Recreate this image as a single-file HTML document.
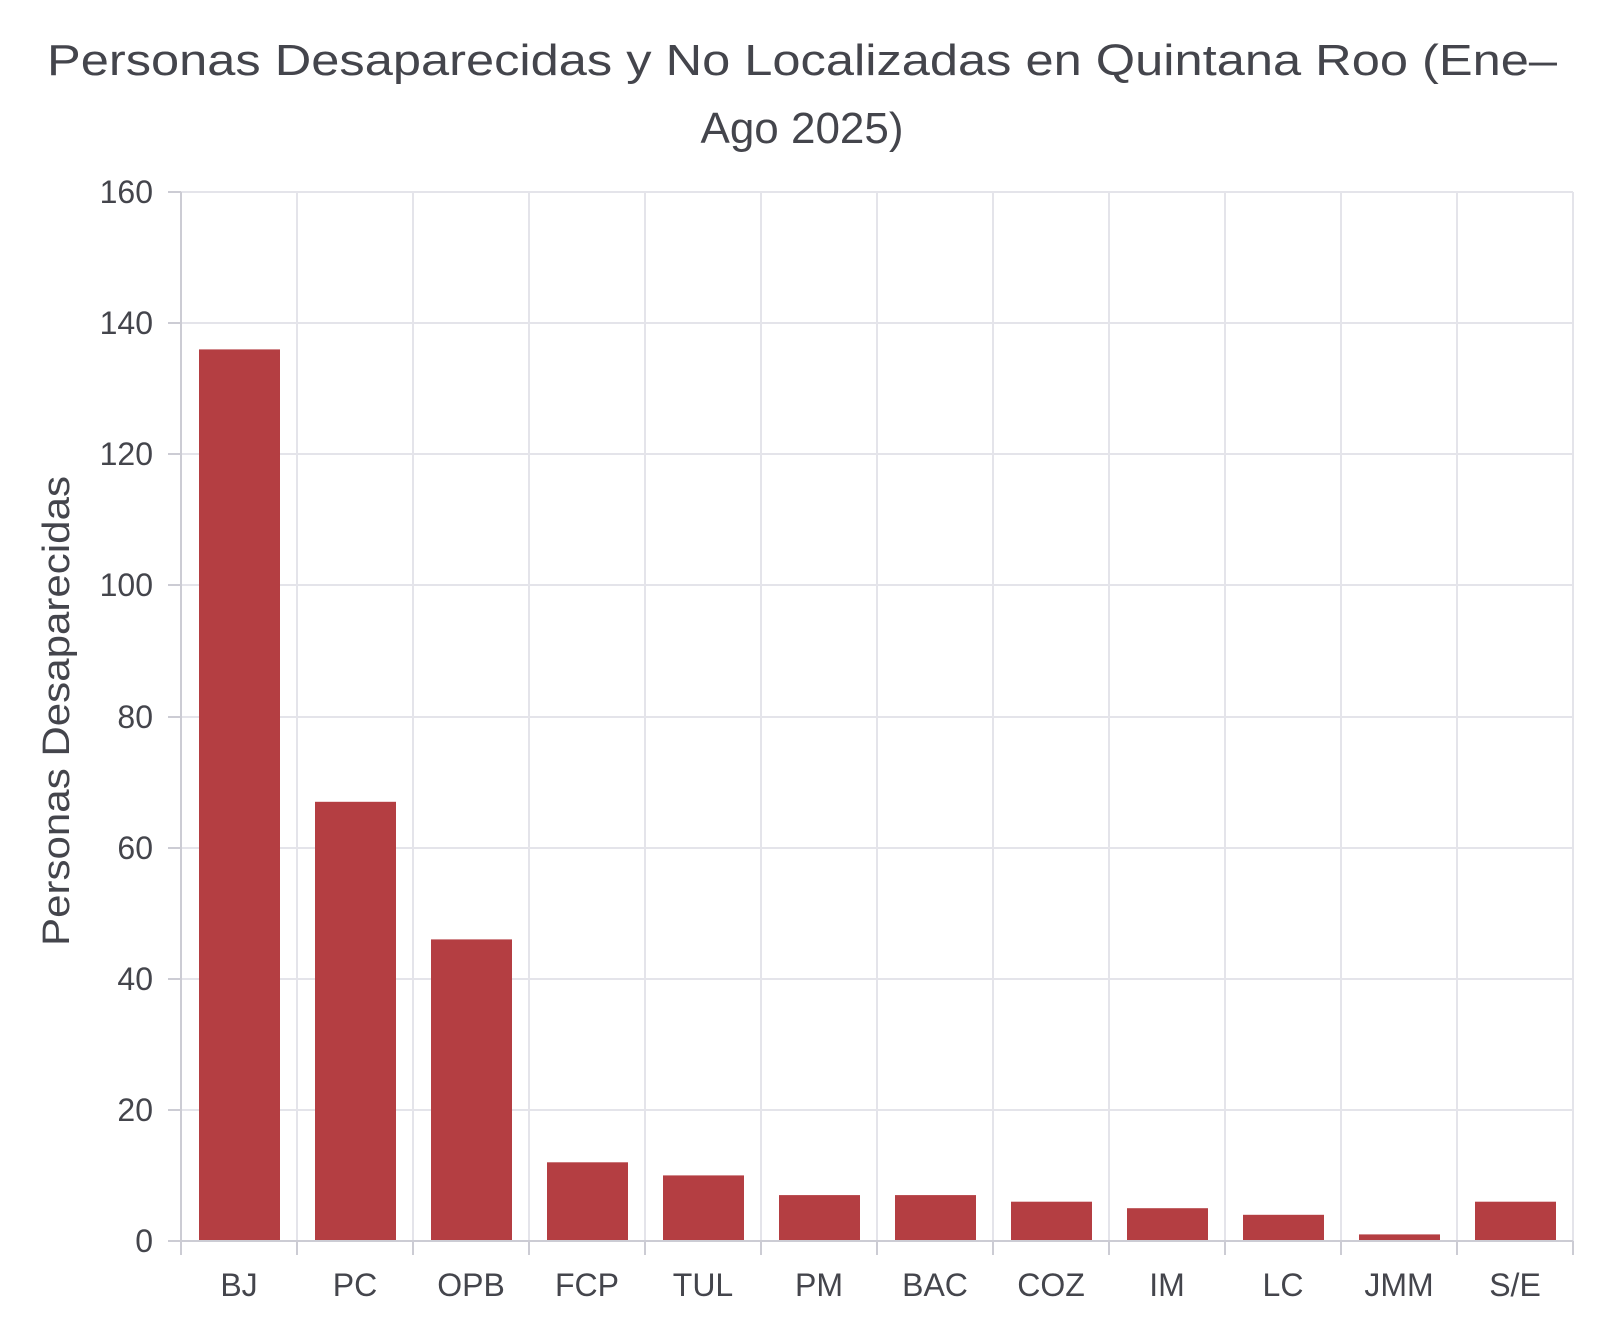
<!DOCTYPE html>
<html><head><meta charset="utf-8"><style>html,body{margin:0;padding:0;background:#fff}svg{display:block}</style></head>
<body>
<svg width="1600" height="1333" viewBox="0 0 1600 1333" xmlns="http://www.w3.org/2000/svg" font-family="Liberation Sans, sans-serif">
<rect width="1600" height="1333" fill="#fff"/>
<g fill="#44454c" font-size="44" text-anchor="middle">
<text x="802" y="75" textLength="1510" lengthAdjust="spacingAndGlyphs">Personas Desaparecidas y No Localizadas en Quintana Roo (Ene–</text>
<text x="802" y="143">Ago 2025)</text>
</g>
<g stroke="#e4e4ea" stroke-width="2">
<line x1="181" y1="192" x2="1573" y2="192"/><line x1="181" y1="323" x2="1573" y2="323"/><line x1="181" y1="454" x2="1573" y2="454"/><line x1="181" y1="585" x2="1573" y2="585"/><line x1="181" y1="717" x2="1573" y2="717"/><line x1="181" y1="848" x2="1573" y2="848"/><line x1="181" y1="979" x2="1573" y2="979"/><line x1="181" y1="1110" x2="1573" y2="1110"/>
<line x1="297" y1="192" x2="297" y2="1241"/><line x1="413" y1="192" x2="413" y2="1241"/><line x1="529" y1="192" x2="529" y2="1241"/><line x1="645" y1="192" x2="645" y2="1241"/><line x1="761" y1="192" x2="761" y2="1241"/><line x1="877" y1="192" x2="877" y2="1241"/><line x1="993" y1="192" x2="993" y2="1241"/><line x1="1109" y1="192" x2="1109" y2="1241"/><line x1="1225" y1="192" x2="1225" y2="1241"/><line x1="1341" y1="192" x2="1341" y2="1241"/><line x1="1457" y1="192" x2="1457" y2="1241"/><line x1="1573" y1="192" x2="1573" y2="1241"/>
</g>
<g fill="#b43e42">
<rect x="199" y="349.4" width="81" height="891.6"/>
<rect x="315" y="801.8" width="81" height="439.2"/>
<rect x="431" y="939.4" width="81" height="301.6"/>
<rect x="547" y="1162.3" width="81" height="78.7"/>
<rect x="663" y="1175.4" width="81" height="65.6"/>
<rect x="779" y="1195.1" width="81" height="45.9"/>
<rect x="895" y="1195.1" width="81" height="45.9"/>
<rect x="1011" y="1201.7" width="81" height="39.3"/>
<rect x="1127" y="1208.2" width="81" height="32.8"/>
<rect x="1243" y="1214.8" width="81" height="26.2"/>
<rect x="1359" y="1234.4" width="81" height="6.6"/>
<rect x="1475" y="1201.7" width="81" height="39.3"/>
</g>
<g stroke="#ccccd4" stroke-width="2">
<line x1="181" y1="192" x2="181" y2="1255"/>
<line x1="168" y1="1241" x2="1573" y2="1241"/>
<line x1="168" y1="192" x2="181" y2="192"/><line x1="168" y1="323" x2="181" y2="323"/><line x1="168" y1="454" x2="181" y2="454"/><line x1="168" y1="585" x2="181" y2="585"/><line x1="168" y1="717" x2="181" y2="717"/><line x1="168" y1="848" x2="181" y2="848"/><line x1="168" y1="979" x2="181" y2="979"/><line x1="168" y1="1110" x2="181" y2="1110"/>
<line x1="297" y1="1241" x2="297" y2="1255"/><line x1="413" y1="1241" x2="413" y2="1255"/><line x1="529" y1="1241" x2="529" y2="1255"/><line x1="645" y1="1241" x2="645" y2="1255"/><line x1="761" y1="1241" x2="761" y2="1255"/><line x1="877" y1="1241" x2="877" y2="1255"/><line x1="993" y1="1241" x2="993" y2="1255"/><line x1="1109" y1="1241" x2="1109" y2="1255"/><line x1="1225" y1="1241" x2="1225" y2="1255"/><line x1="1341" y1="1241" x2="1341" y2="1255"/><line x1="1457" y1="1241" x2="1457" y2="1255"/><line x1="1573" y1="1241" x2="1573" y2="1255"/>
</g>
<g fill="#44454c" font-size="32" text-anchor="end">
<text x="153" y="203">160</text><text x="153" y="334">140</text><text x="153" y="465">120</text><text x="153" y="596">100</text><text x="153" y="728">80</text><text x="153" y="859">60</text><text x="153" y="990">40</text><text x="153" y="1121">20</text><text x="153" y="1252">0</text>
</g>
<g fill="#44454c" font-size="32" text-anchor="middle">
<text x="239" y="1296">BJ</text><text x="355" y="1296">PC</text><text x="471" y="1296">OPB</text><text x="587" y="1296">FCP</text><text x="703" y="1296">TUL</text><text x="819" y="1296">PM</text><text x="935" y="1296">BAC</text><text x="1051" y="1296">COZ</text><text x="1167" y="1296">IM</text><text x="1283" y="1296">LC</text><text x="1399" y="1296">JMM</text><text x="1515" y="1296">S/E</text>
</g>
<text transform="translate(69,711) rotate(-90)" fill="#44454c" font-size="38" text-anchor="middle" textLength="470" lengthAdjust="spacingAndGlyphs">Personas Desaparecidas</text>
</svg>
</body></html>
